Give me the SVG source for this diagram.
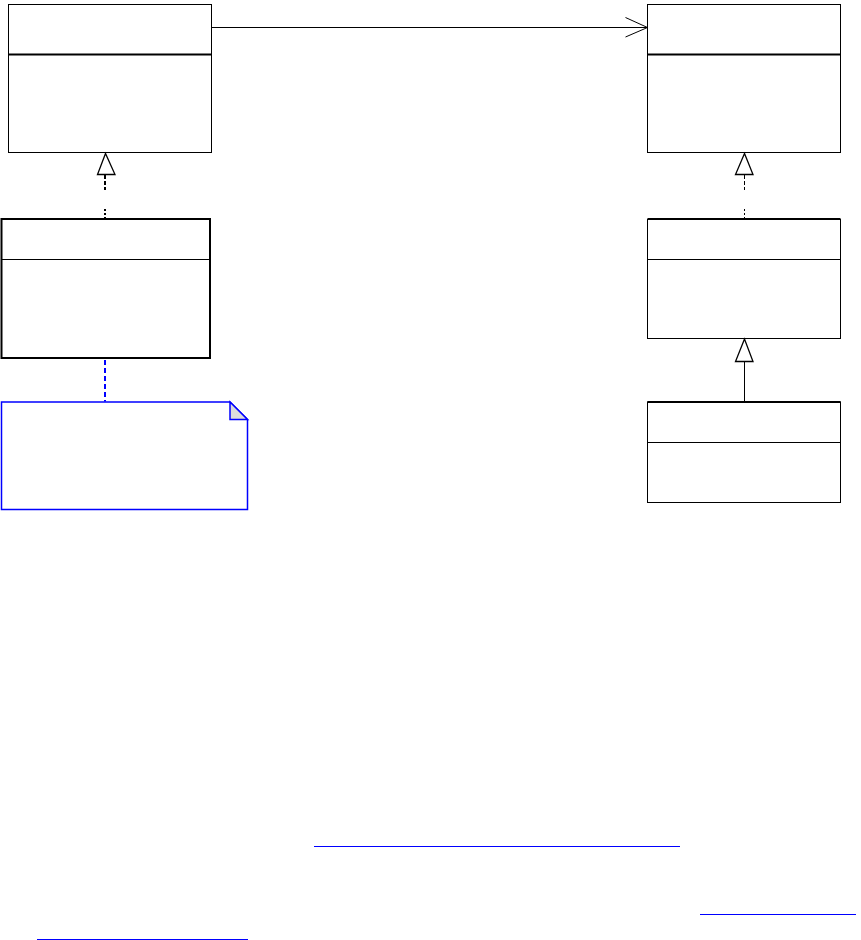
<svg xmlns="http://www.w3.org/2000/svg" width="861" height="940" viewBox="0 0 861 940">
<style>
.box{fill:#fff;stroke:#000;stroke-width:1}
.thick{stroke:#000;stroke-width:2;fill:none}
.thin{stroke:#000;stroke-width:1;fill:none}
.tri{fill:#fff;stroke:#000;stroke-width:1.3}
.link{stroke:#0000ff;stroke-width:1}
.dash{stroke:#000;stroke-dasharray:4,2}
</style>
<rect width="861" height="940" fill="#fff"/>
<g id="classA">
<rect class="box" x="8.5" y="4.5" width="203" height="148"/>
<line class="thick" x1="8.5" y1="54.5" x2="211" y2="54.5"/>
</g>
<g id="classB">
<rect class="box" x="647.5" y="4.5" width="193" height="148"/>
<line class="thick" x1="647.5" y1="54.5" x2="840.5" y2="54.5"/>
</g>
<g id="classC">
<rect class="box" x="1.5" y="219" width="208.5" height="139" style="stroke-width:2"/>
<line class="thin" x1="1.5" y1="259.5" x2="210" y2="259.5"/>
</g>
<g id="classD">
<rect class="box" x="647.5" y="219.5" width="193" height="119"/>
<line class="thick" x1="647.5" y1="219" x2="840.5" y2="219"/>
<line class="thin" x1="647.5" y1="259.5" x2="840.5" y2="259.5"/>
</g>
<g id="classE">
<rect class="box" x="647.5" y="402" width="193" height="100.5"/>
<line class="thick" x1="647.5" y1="402" x2="840.5" y2="402"/>
<line class="thin" x1="647.5" y1="442.5" x2="840.5" y2="442.5"/>
</g>
<g id="note">
<path d="M1.5,402 H230 L247.5,419.5 V509.5 H1.5 Z" fill="#fff" stroke="#0000ff" stroke-width="1.5"/>
<path d="M230,402 V419.5 H247.5 Z" fill="#dcdcdc" stroke="#0000ff" stroke-width="1.5"/>
</g>
<g id="connectors">
<line class="thin" x1="211" y1="27.5" x2="647" y2="27.5"/>
<polyline class="thin" points="625.5,17.5 647.5,27.5 625.5,37" stroke-width="1.3"/>
<line class="dash" x1="105" y1="175" x2="105" y2="190" stroke-width="2"/>
<line class="dash" x1="105" y1="209" x2="105" y2="218" stroke-width="2" style="stroke-dasharray:2,2"/>
<polygon class="tri" points="105.5,153.5 97.5,174.5 115,174.5"/>
<line class="dash" x1="744.5" y1="175" x2="744.5" y2="190" stroke-width="1"/>
<line class="dash" x1="744.5" y1="209" x2="744.5" y2="218" stroke-width="1" style="stroke-dasharray:2,2"/>
<polygon class="tri" points="744.5,153.5 735.5,174.5 753,174.5"/>
<line class="thin" x1="744.5" y1="362" x2="744.5" y2="401"/>
<polygon class="tri" points="744.5,339 735.5,361.5 753,361.5"/>
<line x1="105" y1="360" x2="105" y2="401.5" stroke="#0000ff" stroke-width="2" stroke-dasharray="5,3"/>
</g>
<g id="links">
<line class="link" x1="314" y1="846.5" x2="680" y2="846.5"/>
<line class="link" x1="700" y1="914.5" x2="856" y2="914.5"/>
<line class="link" x1="37" y1="939.5" x2="248" y2="939.5"/>
</g>
</svg>
